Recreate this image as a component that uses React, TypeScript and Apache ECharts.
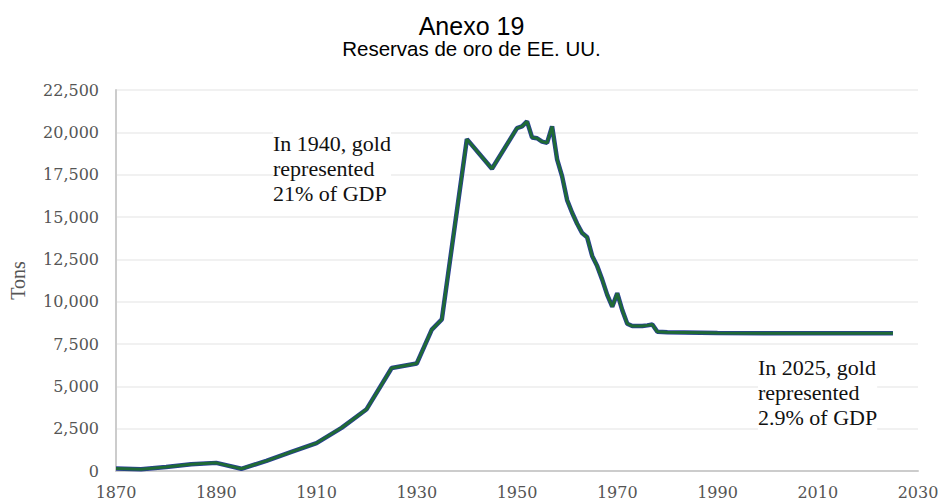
import React, { useEffect, useRef } from "react";
import * as echarts from "echarts";

const years: number[] = [
  1870, 1875, 1880, 1885, 1890, 1895, 1900, 1905, 1910, 1915, 1920, 1925, 1930, 1933, 1935,
  1940, 1945, 1950, 1951, 1952, 1953, 1954, 1955, 1956, 1957, 1958, 1959, 1960, 1961, 1962,
  1963, 1964, 1965, 1966, 1967, 1968, 1969, 1970, 1971, 1972, 1973, 1975, 1976, 1977, 1978,
  1980, 1990, 2000, 2010, 2025,
];
const tons: number[] = [
  150, 110, 230, 400, 480, 130, 600, 1130, 1650, 2550, 3650, 6080, 6350, 8350, 8950,
  19600, 17850, 20250, 20350, 20650, 19700, 19650, 19450, 19380, 20350, 18400, 17400, 16000, 15250, 14600,
  14050, 13800, 12700, 12100, 11300, 10400, 9700, 10500, 9500, 8700, 8560, 8560, 8600, 8650, 8220,
  8200, 8150, 8140, 8135, 8135,
];

const title = "Anexo 19";
const subtitle = "Reservas de oro de EE. UU.";
const yName = "Tons";
const note1 = ["In 1940, gold", "represented", "21% of GDP"];
const note2 = ["In 2025, gold", "represented", "2.9% of GDP"];

export default function App() {
  const ref = useRef<HTMLDivElement>(null);
  useEffect(() => {
    if (!ref.current) return;
    const chart = echarts.init(ref.current, null, { renderer: "svg" });
    const data = years.map((y, i) => [y, tons[i]]);
    const serif = "Liberation Serif";
    const numFont = "DejaVu Serif";
    chart.setOption({
      animation: false,
      backgroundColor: "#ffffff",
      title: {
        text: title,
        subtext: subtitle,
        left: "center",
        top: 8,
        itemGap: 0,
        textStyle: { fontFamily: "Liberation Sans", fontSize: 25, fontWeight: "normal", color: "#000" },
        subtextStyle: { fontFamily: "Liberation Sans", fontSize: 20.5, color: "#000" },
      },
      grid: { left: 116, right: 25, top: 90, bottom: 33 },
      xAxis: {
        type: "value",
        min: 1870,
        max: 2030,
        interval: 20,
        axisLine: { show: true, lineStyle: { color: "#cccccc", width: 2 } },
        axisTick: { show: false },
        splitLine: { show: false },
        axisLabel: {
          fontFamily: numFont,
          fontSize: 16,
          color: "#555555",
          margin: 13,
          formatter: (v: number) => String(v),
        },
      },
      yAxis: {
        type: "value",
        min: 0,
        max: 22500,
        interval: 2500,
        name: yName,
        nameLocation: "middle",
        nameGap: 88,
        nameTextStyle: { fontFamily: serif, fontSize: 20, color: "#555555" },
        axisLine: { show: true, lineStyle: { color: "#cccccc", width: 2 } },
        axisTick: { show: false },
        splitLine: { show: true, lineStyle: { color: "#ececec", width: 1.5 } },
        axisLabel: {
          fontFamily: numFont,
          fontSize: 16,
          color: "#555555",
          margin: 17,
          formatter: (v: number) => v.toLocaleString("en-US"),
        },
      },
      series: [
        {
          type: "line",
          data,
          showSymbol: false,
          lineStyle: { color: "#2a3c9a", width: 4.5 },
          z: 2,
        },
        {
          type: "line",
          data,
          showSymbol: false,
          lineStyle: { color: "#1f6a36", width: 3 },
          z: 3,
        },
      ],
      graphic: [
        {
          type: "text",
          left: 273,
          top: 131,
          z: 1,
          style: {
            text: note1.join("\n"),
            font: `22px "${serif}"`,
            lineHeight: 25,
            fill: "#111",
            backgroundColor: "#ffffff",
          },
        },
        {
          type: "text",
          left: 758,
          top: 355,
          z: 1,
          style: {
            text: note2.join("\n"),
            font: `22px "${serif}"`,
            lineHeight: 25,
            fill: "#111",
            backgroundColor: "#ffffff",
          },
        },
      ],
    });
    return () => chart.dispose();
  }, []);
  return <div ref={ref} style={{ width: 943, height: 504, position: "absolute", left: 0, top: 0 }} />;
}
